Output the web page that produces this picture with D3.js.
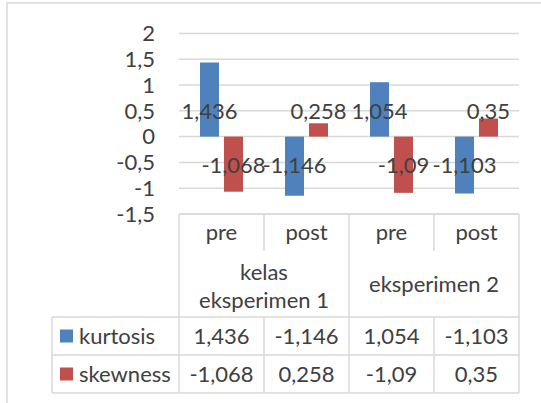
<!DOCTYPE html>
<html><head><meta charset="utf-8">
<script src="https://cdn.jsdelivr.net/npm/d3@7"></script>
<style>
html,body{margin:0;padding:0;background:#fff;}
svg{display:block;}
text{font-family:Lato, "Open Sans", sans-serif; fill:#404040;}
</style></head>
<body><svg id="c" width="541" height="403"></svg>
<script>
const groups = ["kelas eksperimen 1", "eksperimen 2"];
const groupLines = [["kelas", "eksperimen 1"], ["eksperimen 2"]];
const subcats = ["pre", "post", "pre", "post"];
const seriesNames = ["kurtosis", "skewness"];
const kurtosis = [1.436, -1.146, 1.054, -1.103];
const skewness = [-1.068, 0.258, -1.09, 0.35];
const yTicks = [2, 1.5, 1, 0.5, 0, -0.5, -1, -1.5];
const colors = ["#4F81BD", "#C0504D"];

const fmt = v => String(v).replace(".", ",");
const svg = d3.select("#c");
const FS = 22;

// outer frame
svg.append("rect").attr("x", 7).attr("y", 3).attr("width", 545).attr("height", 420)
  .attr("fill", "none").attr("stroke", "#D9D9D9").attr("stroke-width", 1.5);

const left = 179, right = 519;
const y = d3.scaleLinear().domain([-1.5, 2]).range([214, 33.4]);
const x0 = d3.scaleBand().domain(d3.range(4)).range([left, right]);
const x1 = d3.scaleBand().domain([0, 1]).range([0, x0.bandwidth()]).paddingInner(0.208).paddingOuter(0.875);

// gridlines
svg.append("g").selectAll("line").data(yTicks).join("line")
  .attr("x1", left).attr("x2", right)
  .attr("y1", d => y(d)).attr("y2", d => y(d))
  .attr("stroke", "#D9D9D9").attr("stroke-width", 1.5);

// y axis labels
svg.append("g").selectAll("text").data(yTicks).join("text")
  .attr("x", 155).attr("y", d => y(d)).attr("dy", "0.35em")
  .attr("text-anchor", "end").attr("font-size", FS)
  .text(d => fmt(d));

const series = [kurtosis, skewness];
// bars
series.forEach((vals, si) => {
  svg.append("g").selectAll("rect").data(vals).join("rect")
    .attr("x", (d, i) => x0(i) + x1(si))
    .attr("width", x1.bandwidth())
    .attr("y", d => Math.min(y(d), y(0)))
    .attr("height", d => Math.abs(y(d) - y(0)))
    .attr("fill", colors[si]);
});
// data labels
series.forEach((vals, si) => {
  svg.append("g").selectAll("text").data(vals).join("text")
    .attr("x", (d, i) => x0(i) + x1(si) + x1.bandwidth() / 2)
    .attr("y", d => d >= 0 ? y(0) - 25.5 : y(0) + 28.5)
    .attr("dy", "0.35em").attr("text-anchor", "middle").attr("font-size", FS)
    .text(d => fmt(d));
});

// data table
const tStroke = "#D9D9D9";
const T = svg.append("g").attr("stroke", tStroke).attr("stroke-width", 1.5);
const rTop = 214, rSub = 251, rGrp = 317, rK = 355, rS = 393, legL = 52;
const colX = x0.domain().map(i => x0(i)).concat([right]);
// horizontal lines
T.append("line").attr("x1", left).attr("x2", right).attr("y1", rTop).attr("y2", rTop);
[rGrp, rK, rS].forEach(yy => T.append("line").attr("x1", legL).attr("x2", right).attr("y1", yy).attr("y2", yy));
// vertical lines
T.append("line").attr("x1", legL).attr("x2", legL).attr("y1", rGrp).attr("y2", rS);
colX.forEach((cx, i) => {
  if (i % 2 === 0) {
    T.append("line").attr("x1", cx).attr("x2", cx).attr("y1", rTop).attr("y2", rS);
  } else {
    T.append("line").attr("x1", cx).attr("x2", cx).attr("y1", rTop).attr("y2", rSub);
    T.append("line").attr("x1", cx).attr("x2", cx).attr("y1", rGrp).attr("y2", rS);
  }
});
// subcategory labels
svg.append("g").selectAll("text").data(subcats).join("text")
  .attr("x", (d, i) => x0(i) + x0.bandwidth() / 2).attr("y", (rTop + rSub) / 2)
  .attr("dy", "0.35em").attr("text-anchor", "middle").attr("font-size", FS).text(d => d);
// group labels
groupLines.forEach((lines, gi) => {
  const cx = x0(gi * 2) + x0.bandwidth();
  const cy = (rSub + rGrp) / 2 + (lines.length > 1 ? 2 : 0);
  lines.forEach((ln, li) => {
    svg.append("text").attr("x", cx).attr("y", cy + (li - (lines.length - 1) / 2) * 28)
      .attr("dy", "0.35em").attr("text-anchor", "middle").attr("font-size", FS).text(ln);
  });
});
// value rows
const rowYs = [(rGrp + rK) / 2, (rK + rS) / 2];
series.forEach((vals, si) => {
  svg.append("rect").attr("x", 60).attr("y", rowYs[si] - 6.5).attr("width", 13).attr("height", 13).attr("fill", colors[si]);
  svg.append("text").attr("x", 79).attr("y", rowYs[si]).attr("dy", "0.35em").attr("font-size", FS).text(seriesNames[si]);
  svg.append("g").selectAll("text").data(vals).join("text")
    .attr("x", (d, i) => x0(i) + x0.bandwidth() / 2).attr("y", rowYs[si])
    .attr("dy", "0.35em").attr("text-anchor", "middle").attr("font-size", FS).text(d => fmt(d));
});
</script></body></html>
